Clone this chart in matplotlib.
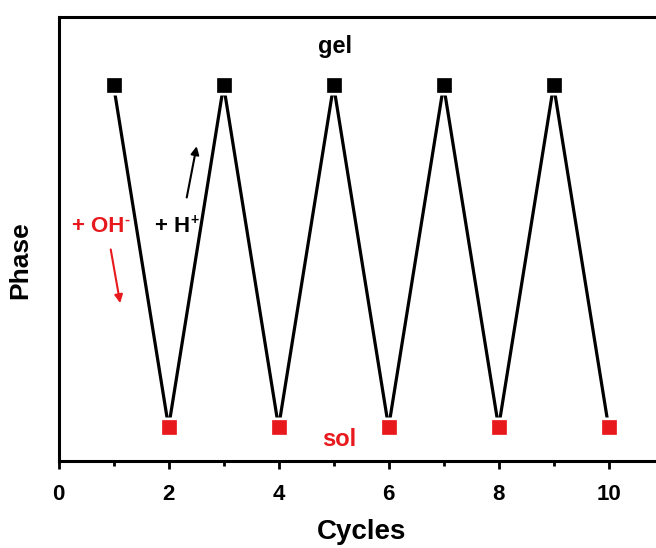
import matplotlib
matplotlib.use("Agg")
import matplotlib.pyplot as plt
from matplotlib.ticker import MultipleLocator

plt.rcParams['font.family'] = ['Liberation Sans', 'DejaVu Sans']
plt.rcParams['font.weight'] = 'bold'

# Data
cycles = [1, 2, 3, 4, 5, 6, 7, 8, 9, 10]
phase = [1, 0, 1, 0, 1, 0, 1, 0, 1, 0]   # 1 = gel, 0 = sol
gel_x = [c for c, p in zip(cycles, phase) if p == 1]
gel_y = [p for p in phase if p == 1]
sol_x = [c for c, p in zip(cycles, phase) if p == 0]
sol_y = [p for p in phase if p == 0]
xticks = [0, 2, 4, 6, 8, 10]

RED = '#e8191c'

fig = plt.figure(figsize=(6.56, 5.48), dpi=100)
ax = fig.add_axes([0.0893, 0.158, 0.9223, 0.811])

ax.plot(cycles, phase, color='black', lw=2.3, zorder=2)
# white halo to create gap between line and markers
ax.plot(cycles, phase, ls='none', marker='s', ms=15, mfc='white', mec='none', zorder=3)
ax.plot(gel_x, gel_y, ls='none', marker='s', ms=9.4, mfc='black', mec='black', mew=0.5, zorder=4)
ax.plot(sol_x, sol_y, ls='none', marker='s', ms=9.4, mfc=RED, mec=RED, mew=0.5, zorder=4)

ax.set_xlim(0, 11)
ax.set_ylim(-0.1, 1.2)
ax.set_xticks(xticks)
ax.xaxis.set_minor_locator(MultipleLocator(1))
ax.set_yticks([])
ax.tick_params(axis='x', which='major', direction='out', length=6, width=2, labelsize=16, pad=10)
ax.tick_params(axis='x', which='minor', direction='out', length=3.6, width=2)
for lab in ax.get_xticklabels():
    lab.set_fontweight('bold')
for s in ['left', 'bottom', 'top']:
    ax.spines[s].set_linewidth(2.2)
ax.spines['right'].set_visible(False)

ax.set_xlabel('Cycles', fontsize=20, fontweight='bold', labelpad=10)
ax.set_ylabel('Phase', fontsize=19, fontweight='bold')
ax.yaxis.set_label_coords(-0.044, 0.453)

ax.text(5.03, 1.114, 'gel', ha='center', va='center', fontsize=17, fontweight='bold', color='black')
ax.text(5.1, -0.035, 'sol', ha='center', va='center', fontsize=17, fontweight='bold', color=RED)

t1 = ax.text(0.244, 0.570, '+ OH', ha='left', va='baseline', fontsize=16, fontweight='bold', color=RED)
ax.annotate('-', xy=(1.0, 0.82), xycoords=t1, ha='left', va='center', fontsize=11,
            fontweight='bold', color=RED, xytext=(-0.3, 0), textcoords='offset points')
t2 = ax.text(1.753, 0.570, '+ H', ha='left', va='baseline', fontsize=16, fontweight='bold', color='black')
ax.annotate('+', xy=(1.0, 0.85), xycoords=t2, ha='left', va='center', fontsize=10,
            fontweight='bold', color='black', xytext=(0.2, 0), textcoords='offset points')

ax.annotate('', xy=(2.51, 0.822), xytext=(2.33, 0.672),
            arrowprops=dict(arrowstyle='-|>', color='black', lw=1.5, mutation_scale=12, shrinkA=0, shrinkB=0))
ax.annotate('', xy=(1.12, 0.363), xytext=(0.948, 0.520),
            arrowprops=dict(arrowstyle='-|>', color=RED, lw=1.5, mutation_scale=12, shrinkA=0, shrinkB=0))

fig.savefig('out.png', dpi=100)
